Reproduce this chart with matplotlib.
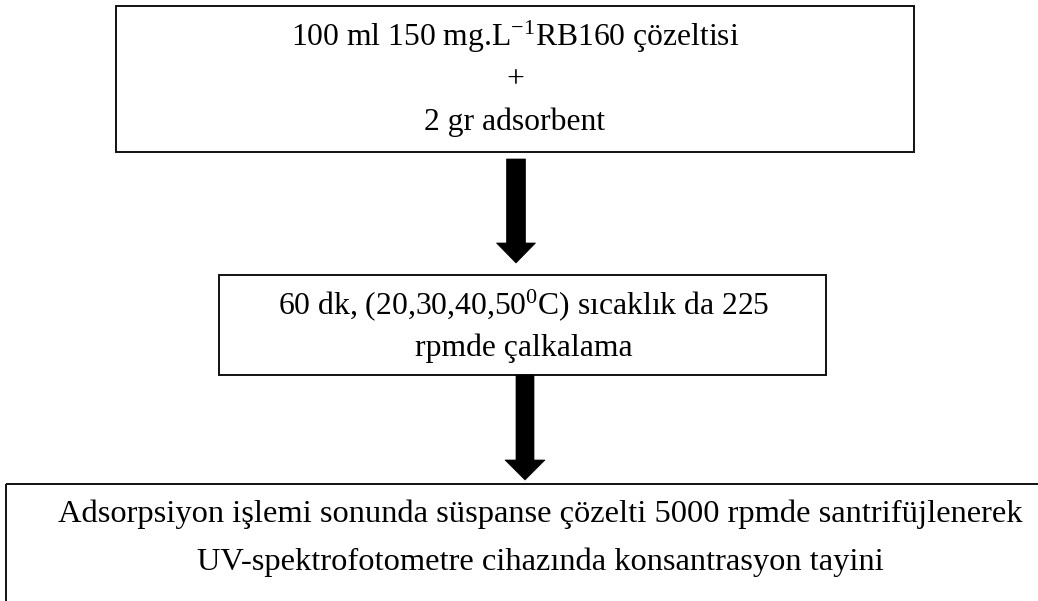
import matplotlib
matplotlib.use("Agg")
import matplotlib.pyplot as plt
from matplotlib.patches import Rectangle, Polygon

plt.rcParams['mathtext.fontset'] = 'custom'
plt.rcParams['mathtext.rm'] = 'Liberation Serif'
plt.rcParams['mathtext.it'] = 'Liberation Serif:italic'
plt.rcParams['mathtext.bf'] = 'Liberation Serif:bold'

# ---- content ----
box1_lines = ["100 ml 150 mg.L$^{\\mathregular{-1}}$RB160 çözeltisi", "+", "2 gr adsorbent"]
box2_lines = ["60 dk, (20,30,40,50$^{\\mathregular{0}}$C) sıcaklık da 225", "rpmde çalkalama"]
box3_lines = ["Adsorpsiyon işlemi sonunda süspanse çözelti 5000 rpmde santrifüjlenerek",
              "UV-spektrofotometre cihazında konsantrasyon tayini"]

# ---- layout (pixel coordinates, y downwards) ----
W, H = 1038, 601
FONT = 'Liberation Serif'
boxes = [
    dict(x0=116, x1=914, y0=6, y1=152, lines=box1_lines, cx=515, ys=[37, 80, 122], fs=22.8),
    dict(x0=219, x1=826, y0=275, y1=375, lines=box2_lines, cx=524, ys=[305, 348], fs=22.8),
    dict(x0=6, x1=1110, y0=484, y1=660, lines=box3_lines, cx=540, ys=[514, 562], fs=23.4),
]
arrows = [
    dict(cx=516, shaft_w=19, head_w=39, y0=159, yb=243, tip=263),
    dict(cx=525, shaft_w=18, head_w=40, y0=375, yb=460, tip=480),
]

fig = plt.figure(figsize=(W / 100, H / 100), dpi=100)
ax = fig.add_axes([0, 0, 1, 1])
ax.set_xlim(0, W)
ax.set_ylim(H, 0)
ax.axis('off')

for b in boxes:
    ax.add_patch(Rectangle((b['x0'], b['y0']), b['x1'] - b['x0'], b['y1'] - b['y0'],
                           fill=False, edgecolor='#111111', linewidth=1.4))
    for line, y in zip(b['lines'], b['ys']):
        ax.text(b['cx'], y, line, ha='center', va='center', fontsize=b['fs'],
                family=FONT, color='black')

for a in arrows:
    c, sw, hw = a['cx'], a['shaft_w'] / 2, a['head_w'] / 2
    pts = [(c - sw, a['y0']), (c + sw, a['y0']), (c + sw, a['yb']), (c + hw, a['yb']),
           (c, a['tip']), (c - hw, a['yb']), (c - sw, a['yb'])]
    ax.add_patch(Polygon(pts, closed=True, facecolor='black', edgecolor='black', linewidth=0.5))

fig.savefig('out.png', dpi=100)
